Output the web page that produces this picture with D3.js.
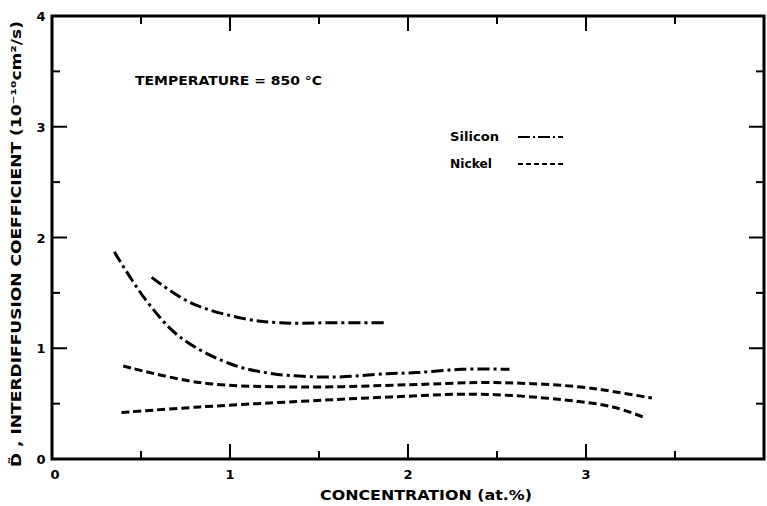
<!DOCTYPE html>
<html><head><meta charset="utf-8">
<script src="https://cdnjs.cloudflare.com/ajax/libs/d3/7.8.5/d3.min.js"></script>
<style>
html,body{margin:0;padding:0;background:#fff;}
svg{display:block;font-family:"DejaVu Sans","Liberation Sans",Arial,sans-serif;font-weight:bold;}
</style></head>
<body><svg id="c" width="767" height="506"></svg>
<script>
// Data
const xTickLabels = [0, 1, 2, 3];
const yTickLabels = [0, 1, 2, 3, 4];
const minorTicks = [0.5, 1.5, 2.5, 3.5];
const siliconUpperX = [0.56, 0.78, 1.07, 1.28, 1.56, 1.88];
const siliconUpperY = [1.64, 1.41, 1.27, 1.23, 1.23, 1.23];
const siliconLowerX = [0.35, 0.53, 0.72, 1.0, 1.24, 1.58, 1.88, 2.05, 2.3, 2.57];
const siliconLowerY = [1.87, 1.43, 1.10, 0.86, 0.77, 0.74, 0.77, 0.78, 0.81, 0.81];
const nickelUpperX = [0.40, 0.83, 1.39, 2.0, 2.4, 2.7, 2.97, 3.15, 3.37];
const nickelUpperY = [0.84, 0.69, 0.65, 0.67, 0.69, 0.68, 0.65, 0.61, 0.55];
const nickelLowerX = [0.39, 0.83, 1.39, 1.9, 2.4, 2.87, 3.15, 3.32];
const nickelLowerY = [0.42, 0.47, 0.52, 0.56, 0.585, 0.535, 0.47, 0.38];
const legendLabels = ["Silicon", "Nickel"];

const svg = d3.select("#c");
const L = 52, R = 764, T = 16, B = 459;
const x = d3.scaleLinear().domain([0, 4]).range([L, R]);
const y = d3.scaleLinear().domain([0, 4]).range([B, T]);

const SI_DASH = "12,4,3,4";
const NI_DASH = "8,4";

// frame
svg.append("rect").attr("x", L).attr("y", T).attr("width", R - L).attr("height", B - T)
  .attr("fill", "none").attr("stroke", "#000").attr("stroke-width", 3);

const g = svg.append("g");
const majorX = [1, 2, 3];
function ticks(vals, len) {
  vals.forEach(v => {
    g.append("line").attr("x1", x(v)).attr("x2", x(v)).attr("y1", B).attr("y2", B - len).attr("stroke", "#000").attr("stroke-width", 2);
    g.append("line").attr("x1", x(v)).attr("x2", x(v)).attr("y1", T).attr("y2", T + len).attr("stroke", "#000").attr("stroke-width", 2);
    g.append("line").attr("y1", y(v)).attr("y2", y(v)).attr("x1", L).attr("x2", L + len).attr("stroke", "#000").attr("stroke-width", 2);
    g.append("line").attr("y1", y(v)).attr("y2", y(v)).attr("x1", R).attr("x2", R - len).attr("stroke", "#000").attr("stroke-width", 2);
  });
}
ticks(majorX, 15);
ticks(minorTicks, 8);

// tick labels
svg.selectAll(".xl").data(xTickLabels).enter().append("text")
  .attr("x", d => x(d) + (d === 0 ? 3 : 0)).attr("y", 479).attr("text-anchor", "middle")
  .attr("font-size", 13).text(d => d);
svg.selectAll(".yl").data(yTickLabels).enter().append("text")
  .attr("x", 41).attr("y", d => y(d) + 5).attr("text-anchor", "middle")
  .attr("font-size", 13).text(d => d);

// axis titles
svg.append("text").attr("x", 320).attr("y", 500)
  .attr("font-size", 14.5).attr("textLength", 212).attr("lengthAdjust", "spacingAndGlyphs")
  .text("CONCENTRATION  (at.%)");
svg.append("text").attr("transform", "translate(21,244) rotate(-90)").attr("text-anchor", "middle")
  .attr("font-size", 14.5).attr("textLength", 446).attr("lengthAdjust", "spacingAndGlyphs")
  .text("D\u0303 , INTERDIFFUSION  COEFFICIENT  (10\u207B\u00B9\u2070cm\u00B2/s)");

svg.append("text").attr("x", 135).attr("y", 85).attr("font-size", 12.5)
  .attr("textLength", 187).attr("lengthAdjust", "spacingAndGlyphs").text("TEMPERATURE = 850 \u00B0C");

// curves
const line = d3.line().x(d => x(d[0])).y(d => y(d[1])).curve(d3.curveCatmullRom.alpha(0.5));
function curve(xs, ys, dash) {
  svg.append("path").datum(xs.map((v, i) => [v, ys[i]]))
    .attr("d", line).attr("fill", "none").attr("stroke", "#000")
    .attr("stroke-width", 3).attr("stroke-dasharray", dash);
}
curve(siliconUpperX, siliconUpperY, SI_DASH);
curve(siliconLowerX, siliconLowerY, SI_DASH);
curve(nickelUpperX, nickelUpperY, NI_DASH);
curve(nickelLowerX, nickelLowerY, NI_DASH);

// legend
const legendLens = [49, 42];
legendLabels.forEach((lab, i) => {
  const ly = 141 + i * 27;
  svg.append("text").attr("x", 450).attr("y", ly).attr("font-size", 12.5)
    .attr("textLength", legendLens[i]).attr("lengthAdjust", "spacingAndGlyphs").text(lab);
  svg.append("line").attr("x1", 518).attr("x2", 563).attr("y1", ly - 4).attr("y2", ly - 4)
    .attr("stroke", "#000").attr("stroke-width", 2).attr("stroke-dasharray", i === 0 ? "12,3,2,3" : "5,3");
});
</script></body></html>
